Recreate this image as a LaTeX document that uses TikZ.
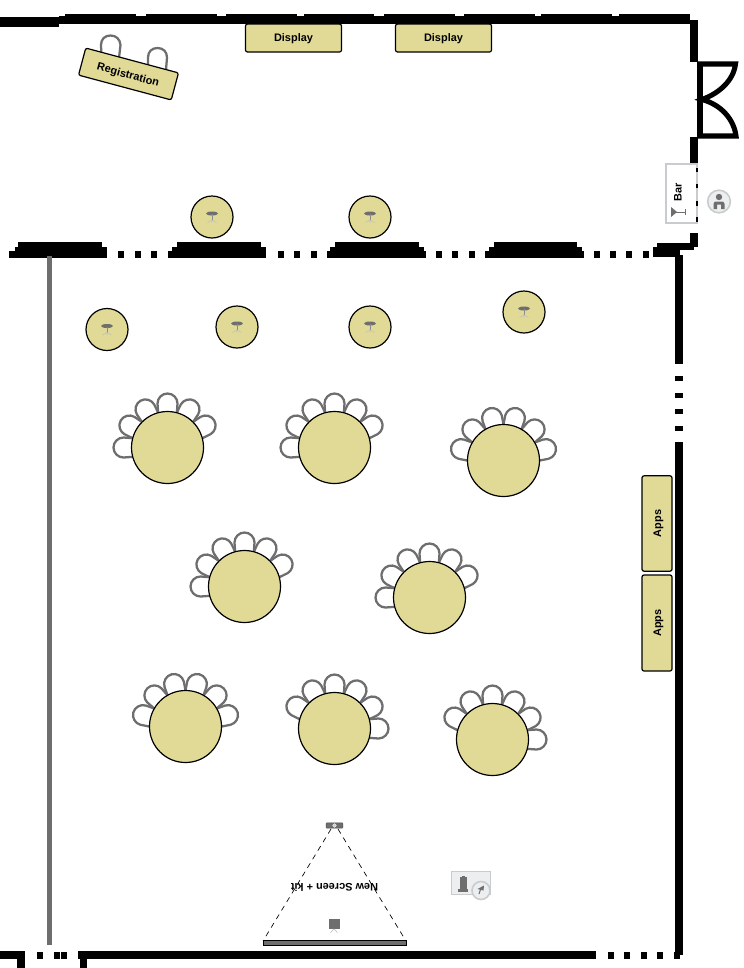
\documentclass[tikz,border=0pt]{standalone}
\usepackage{fontspec}
\setmainfont{Liberation Sans}
\definecolor{tabfill}{HTML}{E0DA96}
\definecolor{chairgrey}{HTML}{6E6E6E}
\definecolor{iconlight}{HTML}{C9CCCE}
\definecolor{iconfill}{HTML}{ECEEEF}
\tikzset{
  lab/.style={font=\bfseries\fontsize{8.2}{9}\selectfont,inner sep=0pt,text=black},
  furn/.style={draw=black,line width=.9pt,fill=tabfill,rounded corners=1.5pt,inner sep=0pt,outer sep=0pt},
  bigtable/.style={circle,draw=black,line width=.9pt,fill=tabfill,minimum size=54pt,inner sep=0pt},
  smalltable/.style={circle,draw=black,line width=.9pt,fill=tabfill,minimum size=31.5pt,inner sep=0pt},
  chairline/.style={draw=chairgrey,line width=1.7pt,fill=white},
}
\newcommand{\wl}[4]{\fill[black] (#1,#2) rectangle (#3,#4);}
\newcommand{\chairat}[3]{\begin{scope}[shift={(#1,#2)},rotate=#3-90]
  \path[chairline] (-9,-30) -- (-10,-44) .. controls (-10,-49.5) and (-5.5,-54) .. (0,-54) .. controls (5.5,-54) and (10,-49.5) .. (10,-44) -- (9,-30);
\end{scope}}
\newcommand{\roundtable}[4]{%
  \foreach \k in {0,...,5} {\pgfmathsetmacro{\ang}{#4+30*\k}\chairat{#2}{#3}{\ang}}
  \node[bigtable] (#1) at (#2,#3) {};}
\newcommand{\smalltab}[3]{%
  \node[smalltable] (#1) at (#2,#3) {};
  \begin{scope}[shift={(#2,#3)}]
    \fill[chairgrey] (0,-3.5) ellipse [x radius=6,y radius=-2];
    \draw[chairgrey!80,line width=.5pt] (0,-3) -- (0,3);
    \draw[chairgrey!45,line width=.4pt] (-4.5,5.5) -- (0,3) -- (4.5,5.5) (0,3) -- (0,5.5);
  \end{scope}}
\begin{document}
\begin{tikzpicture}[x=.75pt,y=-.75pt]
\useasboundingbox (0,0) rectangle (743,968);
\fill[white] (0,0) rectangle (743,968);
% top wall
\wl{0}{17}{59}{27}
\wl{59}{16}{690}{24}
\foreach \a/\b in {65/136,146/217,226/297,304/374,384/455,464/535,541/612,619/690} {\wl{\a}{14}{\b}{24}}
% right upper wall
\wl{690}{20}{698}{62}
\wl{690}{137}{698}{164}
\wl{690}{233}{698}{247}
% door
\draw[black,line width=4.5pt] (700,62) -- (700,138);
\draw[black,line width=3.8pt,line join=miter] (698,64) -- (735.5,64) .. controls (733.5,80) and (720,93) .. (702,99.5) .. controls (722,105) and (734,120) .. (736,136) -- (698,136);
% middle wall
\wl{9}{251}{15}{258}
\wl{15}{247}{107}{258}
\wl{18}{242}{102}{258}
\foreach \a in {118,135,151,168,278,294,311,327,420,436,452,469,485,578,594,610,626,643} {\wl{\a}{251}{\a+6}{258}}
\wl{172}{247}{266}{258}
\wl{177}{242}{261}{258}
\wl{330}{247}{424}{258}
\wl{335}{242}{419}{258}
\wl{489}{247}{582}{258}
\wl{494}{242}{577}{258}
\wl{653}{247}{680}{257}
\wl{657}{243}{694}{250}
% right wall
\wl{675}{255}{683}{364}
\foreach \a in {376,393,409,426} {\wl{675}{\a}{683}{\a+5}}
\wl{675}{442}{683}{955}
% bottom wall
\wl{0}{951}{24}{959}
\wl{17}{951}{25}{968}
\foreach \a/\b in {37/43,54/60,61/67} {\wl{\a}{952}{\b}{959}}
\wl{78}{951}{596}{959}
\wl{80}{951}{87}{968}
\foreach \a in {608,624,641,657,674} {\wl{\a}{952}{\a+6}{959}}
% grey partition
\fill[chairgrey] (47,256) rectangle (52,945);
% registration chairs
\path[chairline] (101.5,58) -- (101,45) .. controls (101,39) and (105,35.5) .. (110.5,35.5) .. controls (116,35.5) and (120,39) .. (120.5,45) -- (119,58);
\path[chairline] (148,70) -- (148,57.5) .. controls (148,51.5) and (152,48) .. (157.5,48) .. controls (163,48) and (167,51.5) .. (167,57.5) -- (166,70);
\node[furn,minimum width=72pt,minimum height=21pt,rotate=-15] (reg) at (128.5,74) {};
\node[lab,rotate=-15] (reglab) at (128,75.5) {Registration};
% displays
\node[furn,minimum width=72pt,minimum height=21pt] (disp1) at (293.5,38) {};
\node[lab] (disp1lab) at (293.5,39) {Display};
\node[furn,minimum width=72pt,minimum height=21pt] (disp2) at (443.5,38) {};
\node[lab] (disp2lab) at (443.5,39) {Display};
% bar
\node[draw=iconlight,line width=1.2pt,fill=white,minimum width=23.5pt,minimum height=44pt,inner sep=0pt] (bar) at (681.5,193.5) {};
\foreach \a/\b in {168/172,184/188,201/206,217/222} {\wl{696}{\a}{698}{\b}}
\node[lab,rotate=90] (barlab) at (678,192) {Bar};
\fill[chairgrey] (671,207) -- (677,212) -- (671,217) -- cycle;
\draw[chairgrey,line width=.6pt] (676,212) -- (685,212) (685,209) -- (685,215);
% person
\node[circle,draw=iconlight,line width=1.2pt,fill=iconfill,minimum size=17pt,inner sep=0pt] (person) at (719,201.5) {};
\fill[chairgrey] (719,197) circle [radius=3.2];
\fill[chairgrey] (713.5,209) -- (713.5,204) .. controls (713.5,202) and (715,201.5) .. (716.5,201.5) -- (721.5,201.5) .. controls (723,201.5) and (724.5,202) .. (724.5,204) -- (724.5,209) -- (721,209) -- (721,204.5) -- (717,204.5) -- (717,209) -- cycle;
% small tables
\smalltab{s1}{212}{217}
\smalltab{s2}{370}{217}
\smalltab{s3}{107}{329.5}
\smalltab{s4}{237}{327}
\smalltab{s5}{370}{327}
\smalltab{s6}{524}{312}
% round tables
\roundtable{t1}{167.5}{447.5}{30}
\roundtable{t2}{334.5}{447.5}{30}
\roundtable{t3}{503.5}{460.5}{15}
\roundtable{t4}{244.5}{586.5}{30}
\roundtable{t5}{429.5}{597.5}{30}
\roundtable{t6}{185.5}{726.5}{15}
\roundtable{t7}{334.5}{728.5}{0}
\roundtable{t8}{492.5}{739.5}{0}
% apps
\node[furn,minimum width=22.5pt,minimum height=71.5pt] (apps1) at (657,523.5) {};
\node[lab,rotate=90] (apps1lab) at (658.5,523.5) {Apps};
\node[furn,minimum width=22.5pt,minimum height=72pt] (apps2) at (657,623) {};
\node[lab,rotate=90] (apps2lab) at (658.5,623) {Apps};
% projection
\node[draw=black!70,line width=.3pt,fill=chairgrey,minimum width=12.5pt,minimum height=4pt,inner sep=0pt,rounded corners=.5pt] (proj) at (334.5,825.5) {};
\draw[white,line width=.3pt,fill=iconlight] (334.5,825.5) circle [radius=1.8];
\node[draw=black,line width=.5pt,fill=chairgrey,minimum width=107.5pt,minimum height=3.8pt,inner sep=0pt] (screen) at (334.5,942.5) {};
\coordinate (pl) at (331,829);
\coordinate (pr) at (338,829);
\coordinate (sl) at (263,941);
\coordinate (sr) at (406,941);
\draw[black,line width=.5pt,dash pattern=on 4pt off 3.5pt] (pl) -- (sl);
\draw[black,line width=.5pt,dash pattern=on 4pt off 3.5pt] (pr) -- (sr);
\node[font=\bfseries\fontsize{8.2}{9}\selectfont,inner sep=0pt,rotate=180] (newscreen) at (334.5,887.5) {New Screen + kit};
\fill[chairgrey] (328.5,919) rectangle (339.5,928.5);
\draw[chairgrey!50,line width=.4pt] (330.5,932.5) -- (334,929) -- (337.5,932.5);
% kit icon
\node[draw=iconlight,line width=1.2pt,fill=iconfill,minimum width=29.5pt,minimum height=17.5pt,inner sep=0pt] (kit) at (471,883) {};
\fill[chairgrey] (459.5,877) rectangle (466.5,889);
\fill[chairgrey] (461.5,875.5) rectangle (464.5,878);
\fill[chairgrey] (458,889) rectangle (468,891.5);
\node[circle,draw=iconlight,line width=1.2pt,fill=iconfill,minimum size=13.5pt,inner sep=0pt] (kitc) at (481,890.5) {};
\draw[chairgrey,line width=.8pt] (479,894) -- (481,888);
\fill[chairgrey] (477.5,889) -- (484,885.5) -- (483.5,890.5) -- cycle;
\end{tikzpicture}
\end{document}
